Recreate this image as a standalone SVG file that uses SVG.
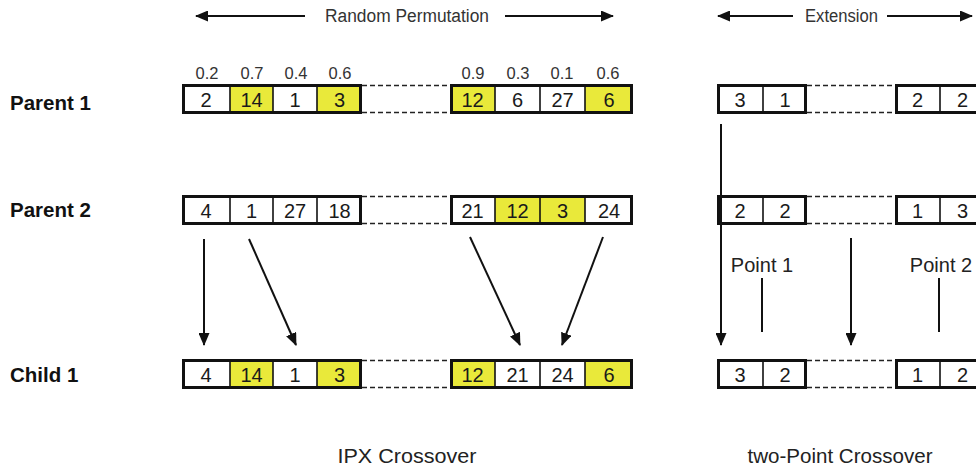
<svg xmlns="http://www.w3.org/2000/svg" width="976" height="468" viewBox="0 0 976 468">
<defs>
<marker id="ah" viewBox="0 0 13 11" refX="12" refY="5.5" markerWidth="13" markerHeight="11" markerUnits="userSpaceOnUse" orient="auto">
<path d="M0,0 L13,5.5 L0,11 Z" fill="#111"/>
</marker>
</defs>
<style>
text{font-family:"Liberation Sans",Arial,sans-serif;}
.lbl{font-size:20.5px;font-weight:bold;fill:#111;}
.cv{font-size:20px;fill:#1a1a1a;text-anchor:middle;}
.pv{font-size:16.5px;fill:#333;text-anchor:middle;}
.hd{font-size:18px;fill:#333;}
.tt{font-size:20px;fill:#222;text-anchor:middle;}
.pt{font-size:20px;fill:#222;text-anchor:middle;}
.w{fill:#fff;}
.y{fill:#e9e93a;}
.div{stroke:#111;stroke-width:1.6;}
.out{fill:none;stroke:#111;stroke-width:3;}
.dash{stroke:#222;stroke-width:1.5;stroke-dasharray:5,3;fill:none;}
.ar{stroke:#111;stroke-width:2;fill:none;marker-end:url(#ah);}
.ln{stroke:#111;stroke-width:2;fill:none;}
</style>
<rect width="976" height="468" fill="#fff"/>

<g id="header-ipx">
<line class="ar" x1="305" y1="16" x2="196" y2="16"/>
<text class="hd" x="325" y="22" textLength="164" lengthAdjust="spacingAndGlyphs">Random Permutation</text>
<line class="ar" x1="505" y1="16" x2="613" y2="16"/>
</g>
<g id="header-ext">
<line class="ar" x1="793" y1="16" x2="718" y2="16"/>
<text class="hd" x="805" y="22" textLength="73" lengthAdjust="spacingAndGlyphs">Extension</text>
<line class="ar" x1="887" y1="16" x2="972" y2="16"/>
</g>

<g id="row-labels">
<text class="lbl" x="10" y="110">Parent 1</text>
<text class="lbl" x="10" y="217">Parent 2</text>
<text class="lbl" x="10" y="382">Child 1</text>
</g>

<g id="random-values">
<text class="pv" x="207" y="79">0.2</text>
<text class="pv" x="252" y="79">0.7</text>
<text class="pv" x="296" y="79">0.4</text>
<text class="pv" x="340" y="79">0.6</text>
<text class="pv" x="473" y="79">0.9</text>
<text class="pv" x="518" y="79">0.3</text>
<text class="pv" x="562" y="79">0.1</text>
<text class="pv" x="608" y="79">0.6</text>
</g>

<!-- IPX Parent 1 -->
<g id="ipx-parent1">
<rect class="w" x="182" y="85" width="48" height="28"/>
<rect class="y" x="230" y="85" width="43" height="28"/>
<rect class="w" x="273" y="85" width="44" height="28"/>
<rect class="y" x="317" y="85" width="45" height="28"/>
<line class="div" x1="230" y1="85" x2="230" y2="113"/>
<line class="div" x1="273" y1="85" x2="273" y2="113"/>
<line class="div" x1="317" y1="85" x2="317" y2="113"/>
<rect class="out" x="183.5" y="85.5" width="177" height="27"/>
<text class="cv" x="206" y="107">2</text>
<text class="cv" x="251.5" y="107">14</text>
<text class="cv" x="295" y="107">1</text>
<text class="cv" x="339.5" y="107">3</text>
<line class="dash" x1="362" y1="85.5" x2="450" y2="85.5"/>
<line class="dash" x1="362" y1="112.5" x2="450" y2="112.5"/>
<rect class="y" x="450" y="85" width="45" height="28"/>
<rect class="w" x="495" y="85" width="45" height="28"/>
<rect class="w" x="540" y="85" width="45" height="28"/>
<rect class="y" x="585" y="85" width="48" height="28"/>
<line class="div" x1="495" y1="85" x2="495" y2="113"/>
<line class="div" x1="540" y1="85" x2="540" y2="113"/>
<line class="div" x1="585" y1="85" x2="585" y2="113"/>
<rect class="out" x="451.5" y="85.5" width="180" height="27"/>
<text class="cv" x="472.5" y="107">12</text>
<text class="cv" x="517.5" y="107">6</text>
<text class="cv" x="562.5" y="107">27</text>
<text class="cv" x="609" y="107">6</text>
</g>

<!-- IPX Parent 2 -->
<g id="ipx-parent2">
<rect class="w" x="182" y="196" width="180" height="28"/>
<line class="div" x1="230" y1="196" x2="230" y2="224"/>
<line class="div" x1="273" y1="196" x2="273" y2="224"/>
<line class="div" x1="317" y1="196" x2="317" y2="224"/>
<rect class="out" x="183.5" y="196.5" width="177" height="27"/>
<text class="cv" x="206" y="218">4</text>
<text class="cv" x="251.5" y="218">1</text>
<text class="cv" x="295" y="218">27</text>
<text class="cv" x="339.5" y="218">18</text>
<line class="dash" x1="362" y1="196.5" x2="450" y2="196.5"/>
<line class="dash" x1="362" y1="223.5" x2="450" y2="223.5"/>
<rect class="w" x="450" y="196" width="45" height="28"/>
<rect class="y" x="495" y="196" width="45" height="28"/>
<rect class="y" x="540" y="196" width="45" height="28"/>
<rect class="w" x="585" y="196" width="48" height="28"/>
<line class="div" x1="495" y1="196" x2="495" y2="224"/>
<line class="div" x1="540" y1="196" x2="540" y2="224"/>
<line class="div" x1="585" y1="196" x2="585" y2="224"/>
<rect class="out" x="451.5" y="196.5" width="180" height="27"/>
<text class="cv" x="472.5" y="218">21</text>
<text class="cv" x="517.5" y="218">12</text>
<text class="cv" x="562.5" y="218">3</text>
<text class="cv" x="609" y="218">24</text>
</g>

<!-- IPX Child 1 -->
<g id="ipx-child1">
<rect class="w" x="182" y="360" width="48" height="28"/>
<rect class="y" x="230" y="360" width="43" height="28"/>
<rect class="w" x="273" y="360" width="44" height="28"/>
<rect class="y" x="317" y="360" width="45" height="28"/>
<line class="div" x1="230" y1="360" x2="230" y2="388"/>
<line class="div" x1="273" y1="360" x2="273" y2="388"/>
<line class="div" x1="317" y1="360" x2="317" y2="388"/>
<rect class="out" x="183.5" y="360.5" width="177" height="27"/>
<text class="cv" x="206" y="382">4</text>
<text class="cv" x="251.5" y="382">14</text>
<text class="cv" x="295" y="382">1</text>
<text class="cv" x="339.5" y="382">3</text>
<line class="dash" x1="362" y1="360.5" x2="450" y2="360.5"/>
<line class="dash" x1="362" y1="387.5" x2="450" y2="387.5"/>
<rect class="y" x="450" y="360" width="45" height="28"/>
<rect class="w" x="495" y="360" width="45" height="28"/>
<rect class="w" x="540" y="360" width="45" height="28"/>
<rect class="y" x="585" y="360" width="48" height="28"/>
<line class="div" x1="495" y1="360" x2="495" y2="388"/>
<line class="div" x1="540" y1="360" x2="540" y2="388"/>
<line class="div" x1="585" y1="360" x2="585" y2="388"/>
<rect class="out" x="451.5" y="360.5" width="180" height="27"/>
<text class="cv" x="472.5" y="382">12</text>
<text class="cv" x="517.5" y="382">21</text>
<text class="cv" x="562.5" y="382">24</text>
<text class="cv" x="609" y="382">6</text>
</g>

<!-- Two-point Parent 1 -->
<g id="tp-parent1">
<rect class="w" x="717" y="85" width="90" height="28"/>
<line class="div" x1="763" y1="85" x2="763" y2="113"/>
<rect class="out" x="718.5" y="85.5" width="87" height="27"/>
<text class="cv" x="740" y="107">3</text>
<text class="cv" x="785" y="107">1</text>
<line class="dash" x1="807" y1="85.5" x2="895" y2="85.5"/>
<line class="dash" x1="807" y1="112.5" x2="895" y2="112.5"/>
<rect class="w" x="895" y="85" width="95" height="28"/>
<line class="div" x1="940" y1="85" x2="940" y2="113"/>
<rect class="out" x="896.5" y="85.5" width="90" height="27"/>
<text class="cv" x="917.5" y="107">2</text>
<text class="cv" x="962.5" y="107">2</text>
</g>

<!-- Two-point Parent 2 -->
<g id="tp-parent2">
<rect class="w" x="717" y="196" width="90" height="28"/>
<line class="div" x1="763" y1="196" x2="763" y2="224"/>
<rect class="out" x="718.5" y="196.5" width="87" height="27"/>
<text class="cv" x="740" y="218">2</text>
<text class="cv" x="785" y="218">2</text>
<line class="dash" x1="807" y1="196.5" x2="895" y2="196.5"/>
<line class="dash" x1="807" y1="223.5" x2="895" y2="223.5"/>
<rect class="w" x="895" y="196" width="95" height="28"/>
<line class="div" x1="940" y1="196" x2="940" y2="224"/>
<rect class="out" x="896.5" y="196.5" width="90" height="27"/>
<text class="cv" x="917.5" y="218">1</text>
<text class="cv" x="962.5" y="218">3</text>
</g>

<!-- Two-point Child 1 -->
<g id="tp-child1">
<rect class="w" x="717" y="360" width="90" height="28"/>
<line class="div" x1="763" y1="360" x2="763" y2="388"/>
<rect class="out" x="718.5" y="360.5" width="87" height="27"/>
<text class="cv" x="740" y="382">3</text>
<text class="cv" x="785" y="382">2</text>
<line class="dash" x1="807" y1="360.5" x2="895" y2="360.5"/>
<line class="dash" x1="807" y1="387.5" x2="895" y2="387.5"/>
<rect class="w" x="895" y="360" width="95" height="28"/>
<line class="div" x1="940" y1="360" x2="940" y2="388"/>
<rect class="out" x="896.5" y="360.5" width="90" height="27"/>
<text class="cv" x="917.5" y="382">1</text>
<text class="cv" x="962.5" y="382">2</text>
</g>

<g id="point-labels">
<text class="pt" x="762" y="272">Point 1</text>
<text class="pt" x="941" y="272">Point 2</text>
</g>

<g id="connectors">
<line class="ar" x1="204" y1="239" x2="204" y2="345"/>
<line class="ar" x1="249" y1="239" x2="296" y2="345"/>
<line class="ar" x1="470" y1="237" x2="520" y2="345"/>
<line class="ar" x1="603" y1="237" x2="562" y2="345"/>
<line class="ar" x1="721" y1="124" x2="721" y2="345"/>
<line class="ar" x1="851" y1="238" x2="851" y2="345"/>
<line class="ar" x1="981" y1="238" x2="981" y2="345"/>
<line class="ln" x1="762" y1="278" x2="762" y2="332"/>
<line class="ln" x1="939" y1="278" x2="939" y2="332"/>
</g>

<g id="titles">
<text class="tt" x="407" y="463" textLength="139" lengthAdjust="spacingAndGlyphs">IPX Crossover</text>
<text class="tt" x="840" y="463" textLength="185" lengthAdjust="spacingAndGlyphs">two-Point Crossover</text>
</g>
</svg>
